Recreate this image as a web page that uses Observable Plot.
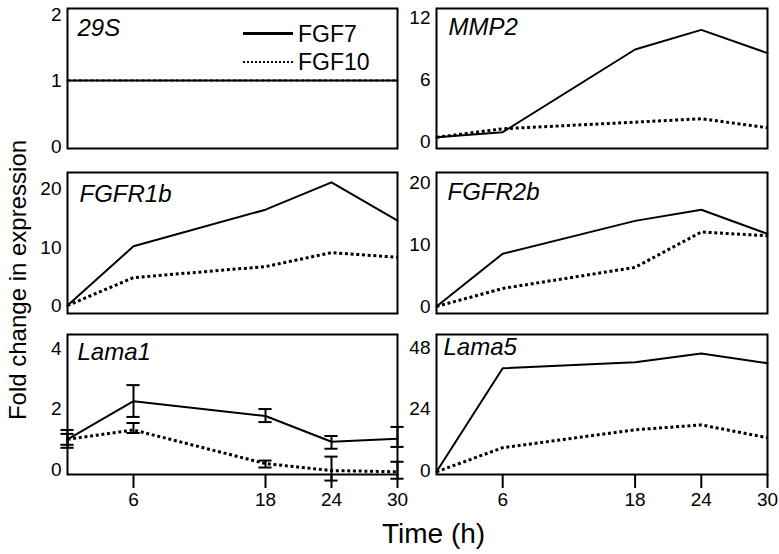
<!DOCTYPE html>
<html>
<head>
<meta charset="utf-8">
<script src="https://cdn.jsdelivr.net/npm/d3@7"></script>
<script src="https://cdn.jsdelivr.net/npm/@observablehq/plot@0.6"></script>
<style>
  html, body { margin: 0; padding: 0; background: #fff; }
  #root { position: relative; width: 779px; height: 554px; background: #fff; font-family: "Liberation Sans", Arial, sans-serif; color: #000; overflow: hidden; }
  .panel { position: absolute; }
  .panel svg { max-width: none !important; overflow: visible !important; background: transparent !important; }
  .panel svg [aria-label*="x-axis"] line, .panel svg [aria-label="x-axis tick"] path { stroke-width: 2px; }
  .lbl { position: absolute; white-space: nowrap; line-height: 1; }
</style>
</head>
<body>
<div id="root"></div>
<script>
// ---- data ----
const times = [0, 6, 18, 24, 30];
const xTicks = [6, 18, 24, 30];

const s29Fgf7 = [1, 1, 1, 1, 1];
const s29Fgf10 = [1, 1, 1, 1, 1];

const mmp2Fgf7 = [0.4, 0.9, 8.9, 10.8, 8.55];
const mmp2Fgf10 = [0.4, 1.23, 1.87, 2.2, 1.33];

const fgfr1bFgf7 = [0, 10.2, 16.5, 21.2, 14.6];
const fgfr1bFgf10 = [0, 4.8, 6.7, 9.1, 8.3];

const fgfr2bFgf7 = [0, 8.5, 13.8, 15.6, 11.7];
const fgfr2bFgf10 = [0, 2.9, 6.3, 12.0, 11.4];

const lama1Fgf7 = [1.0, 2.26, 1.77, 0.92, 1.02];
const lama1Fgf7Lo = [0.72, 1.74, 1.57, 0.69, 0.75];
const lama1Fgf7Hi = [1.31, 2.79, 2.0, 1.11, 1.41];
const lama1Fgf10 = [1.0, 1.31, 0.2, -0.03, -0.07];
const lama1Fgf10Lo = [0.82, 1.21, 0.07, -0.36, -0.3];
const lama1Fgf10Hi = [1.18, 1.54, 0.3, 0.43, 0.26];

const lama5Fgf7 = [-0.5, 39.9, 42.3, 45.7, 41.9];
const lama5Fgf10 = [-0.5, 8.9, 15.9, 17.8, 12.8];

const genes = ["29S", "MMP2", "FGFR1b", "FGFR2b", "Lama1", "Lama5"];
const yTicks = [[0, 1, 2], [0, 6, 12], [0, 10, 20], [0, 10, 20], [0, 2, 4], [0, 24, 48]];
const yDomains = [[-0.03, 2.09], [-0.68, 12.87], [-1.38, 22.9], [-1.14, 21.6], [-0.16, 4.46], [-1.56, 53.1]];
const series = [
  [s29Fgf7, s29Fgf10], [mmp2Fgf7, mmp2Fgf10], [fgfr1bFgf7, fgfr1bFgf10],
  [fgfr2bFgf7, fgfr2bFgf10], [lama1Fgf7, lama1Fgf10], [lama5Fgf7, lama5Fgf10]
];

// ---- layout (styles, not data) ----
const cols = [
  {left: 0, width: 400, marginLeft: 67, marginRight: 3},
  {left: 380, width: 399, marginLeft: 56, marginRight: 12}
];
const rows = [
  {top: 0, height: 160, marginTop: 8, marginBottom: 12},
  {top: 160, height: 160, marginTop: 12, marginBottom: 7},
  {top: 320, height: 200, marginTop: 14, marginBottom: 46}
];
const titleOffsets = [[10, 10], [12, 9], [12, 12], [11, 10], [10, 8], [7, 3]];

const root = document.getElementById("root");

genes.forEach((gene, i) => {
  const col = cols[i % 2], row = rows[Math.floor(i / 2)];
  const bottom = Math.floor(i / 2) === 2;
  const [f7, f10] = series[i];
  const d7 = times.map((t, k) => ({t, v: f7[k]}));
  const d10 = times.map((t, k) => ({t, v: f10[k]}));
  const hidden = gene === "29S"; // FGF10 coincides with FGF7 and is hidden beneath it
  const marks = [
    Plot.line(d10, {x: "t", y: "v", stroke: "#000", strokeWidth: hidden ? 1.8 : 3, strokeDasharray: "3,2.7", strokeLinecap: "butt"}),
    Plot.line(d7, {x: "t", y: "v", stroke: "#000", strokeWidth: 2})
  ];
  if (gene === "Lama1") {
    const e7 = times.map((t, k) => ({t, lo: lama1Fgf7Lo[k], hi: lama1Fgf7Hi[k]}));
    const e10 = times.map((t, k) => ({t, lo: lama1Fgf10Lo[k], hi: lama1Fgf10Hi[k]}));
    for (const e of [e7, e10]) {
      marks.push(Plot.ruleX(e, {x: "t", y1: "lo", y2: "hi", stroke: "#000", strokeWidth: 2}));
      marks.push(Plot.ruleY(e, {y: "hi", x1: d => d.t - 0.6, x2: d => d.t + 0.6, stroke: "#000", strokeWidth: 2}));
      marks.push(Plot.ruleY(e, {y: "lo", x1: d => d.t - 0.6, x2: d => d.t + 0.6, stroke: "#000", strokeWidth: 2}));
    }
  }
  marks.push(Plot.frame({stroke: "#000", strokeWidth: 2}));
  marks.push(Plot.text([gene], {
    text: d => d, frameAnchor: "top-left", textAnchor: "start", lineAnchor: "top",
    dx: titleOffsets[i][0], dy: titleOffsets[i][1], fontSize: 24, fontStyle: "italic", fill: "#000"
  }));
  const chart = Plot.plot({
    width: col.width, height: row.height,
    marginLeft: col.marginLeft, marginRight: col.marginRight,
    marginTop: row.marginTop, marginBottom: row.marginBottom,
    style: {fontSize: "19px", fontFamily: "'Liberation Sans', Arial, sans-serif", background: "transparent", overflow: "visible", color: "#000"},
    x: bottom
      ? {domain: [0, 30], ticks: xTicks, tickSize: 14, tickPadding: 4, label: null, tickFormat: d => String(d)}
      : {domain: [0, 30], axis: null},
    y: {domain: yDomains[i], ticks: yTicks[i], tickSize: 0, tickPadding: 6, label: null, tickFormat: d => String(d)},
    marks
  });
  const wrap = document.createElement("div");
  wrap.className = "panel";
  wrap.style.left = col.left + "px";
  wrap.style.top = row.top + "px";
  wrap.appendChild(chart);
  root.appendChild(wrap);
});

// ---- legend (inside 29S panel) ----
function addEl(html, css) {
  const el = document.createElement("div");
  el.className = "lbl";
  el.innerHTML = html;
  Object.assign(el.style, css);
  root.appendChild(el);
  return el;
}
const legendNames = ["FGF7", "FGF10"];
addEl("", {left: "243px", top: "32px", width: "50px", height: "0px", borderTop: "3.5px solid #000"});
addEl("", {left: "243px", top: "61px", width: "50px", height: "0px", borderTop: "2.5px dotted #000"});
addEl(legendNames[0], {left: "298px", top: "23px", fontSize: "23px"});
addEl(legendNames[1], {left: "298px", top: "51px", fontSize: "23px"});

// ---- axis titles ----
addEl("Fold change in expression", {left: "18px", top: "280px", fontSize: "24px", transform: "translate(-50%, -50%) rotate(-90deg)"});
addEl("Time (h)", {left: "382px", top: "520px", fontSize: "28px"});
</script>
</body>
</html>
